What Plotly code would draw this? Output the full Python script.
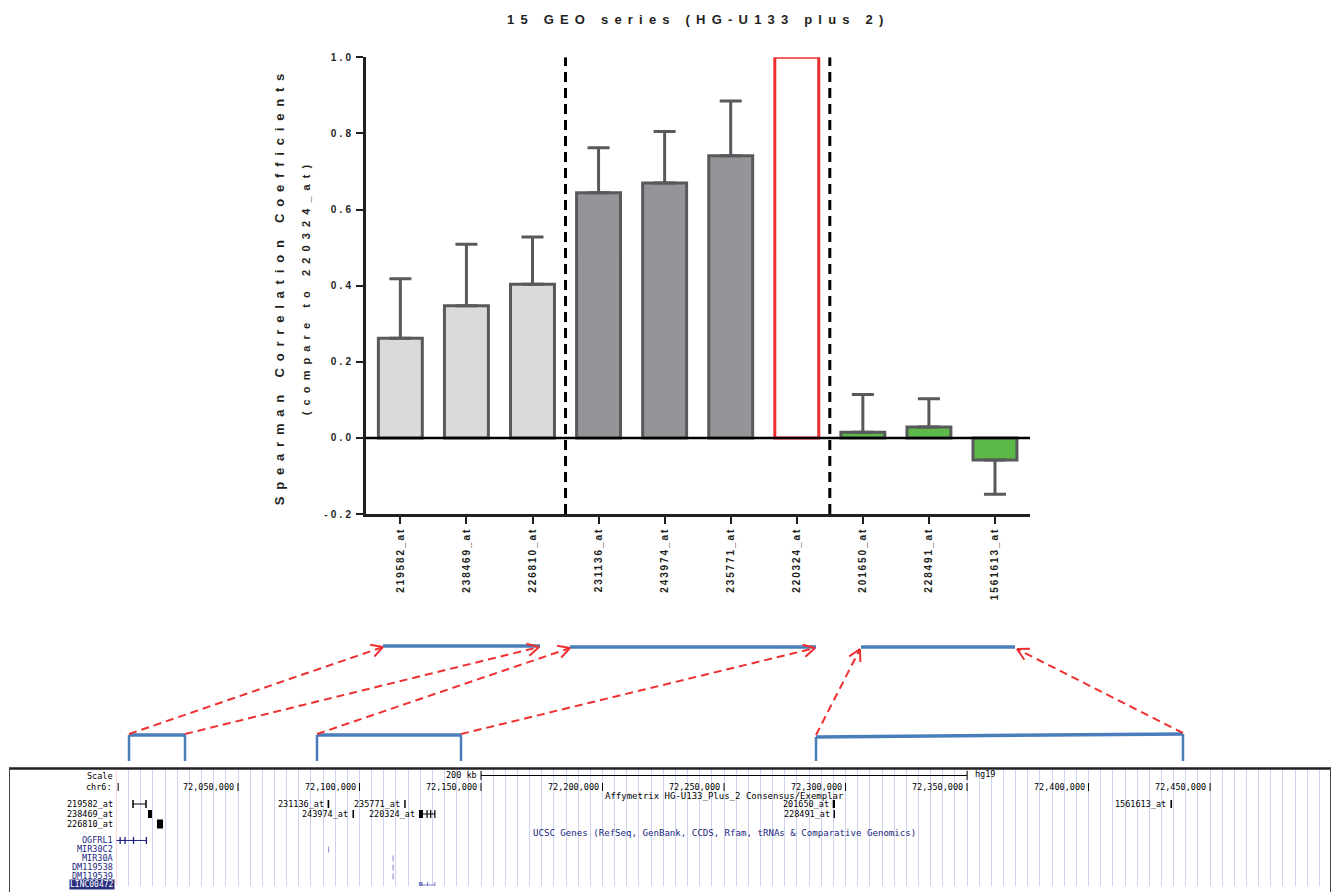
import math
import plotly.graph_objects as go

W, H = 1332, 892

# ---------------- bar chart data ----------------
probes = ["219582_at", "238469_at", "226810_at", "231136_at", "243974_at",
          "235771_at", "220324_at", "201650_at", "228491_at", "1561613_at"]
spearman_r = [0.262, 0.347, 0.404, 0.644, 0.670, 0.741, 1.0, 0.015, 0.029, -0.058]
sd_upper = [0.156, 0.162, 0.124, 0.118, 0.135, 0.144, 0.0, 0.099, 0.074, 0.0]
sd_lower = [0.0, 0.0, 0.0, 0.0, 0.0, 0.0, 0.0, 0.0, 0.0, 0.090]
probe_group = ["light", "light", "light", "dark", "dark", "dark", "ref", "green", "green", "green"]
group_breaks = [2.5, 6.5]
y_tick_values = [-0.2, 0.0, 0.2, 0.4, 0.6, 0.8, 1.0]
y_tick_labels = ["-0.2", "0.0", "0.2", "0.4", "0.6", "0.8", "1.0"]

# ---------------- genome browser data (hg19 chr6) ----------------
view_start = 72000000
view_end = 72499350
coord_ticks = [72050000, 72100000, 72150000, 72200000, 72250000,
               72300000, 72350000, 72400000, 72450000]
coord_tick_labels = ["72,050,000", "72,100,000", "72,150,000", "72,200,000", "72,250,000",
                     "72,300,000", "72,350,000", "72,400,000", "72,450,000"]
scale_bar = [72150000, 72350000]
gb_probe_names = ["219582_at", "238469_at", "226810_at", "231136_at", "243974_at",
                  "235771_at", "220324_at", "201650_at", "228491_at", "1561613_at"]
gb_probe_start = [72006800, 72012950, 72016650, 72086850, 72097100,
                  72118400, 72124450, 72294700, 72295050, 72433700]
gb_probe_end = [72012150, 72014600, 72019150, 72087550, 72097750,
                72119000, 72126100, 72295650, 72295650, 72434350]
gb_probe_row = [1, 2, 3, 1, 2, 1, 2, 1, 2, 1]
gb_probe_in_margin = [True, True, True, False, False, False, False, False, False, False]
gene_names = ["OGFRL1", "MIR30C2", "MIR30A", "DM119538", "DM119539", "LINC00472"]
gene_start = [71999000, 72087100, 72113650, 72113650, 72113650, 72124450]
gene_end = [72012500, 72087400, 72113950, 72113950, 72113950, 72131100]

# ---------------- styling ----------------
fill_of = {"light": "#d9dadc", "dark": "#939598", "ref": "#ffffff", "green": "#5db947"}
edge_of = {"light": "#58595b", "dark": "#58595b", "ref": "#ee2e2e", "green": "#58595b"}
ARIAL = "Arial, Liberation Sans, sans-serif"
MONO = "DejaVu Sans Mono, monospace"
NAVY = "#1a1f80"
BLUE = "#4a7ebb"
RED = "#ee3030"

# vertical placement: screen row -> figure row
V_OFF, V_SCALE = 4.73, 0.9869


def fy(d):
    return (d - V_OFF) / V_SCALE


def px(x):
    return x / W


def py(d):
    return 1 - fy(d) / H


def spaced(t, s):
    return f'<span style="letter-spacing:{s}px">{t}</span>'


fig = go.Figure()

idx_main = [i for i, g in enumerate(probe_group) if g != "ref"]
idx_ref = [i for i, g in enumerate(probe_group) if g == "ref"]

fig.add_trace(go.Bar(
    x=[probes[i] for i in idx_main],
    y=[spearman_r[i] for i in idx_main],
    width=0.665,
    marker=dict(color=[fill_of[probe_group[i]] for i in idx_main],
                line=dict(color=[edge_of[probe_group[i]] for i in idx_main], width=3)),
    error_y=dict(type="data", symmetric=False,
                 array=[sd_upper[i] for i in idx_main],
                 arrayminus=[sd_lower[i] for i in idx_main],
                 color="#58595b", thickness=3, width=11),
    showlegend=False, hoverinfo="skip",
))
fig.add_trace(go.Bar(
    x=[probes[i] for i in idx_ref],
    y=[spearman_r[i] for i in idx_ref],
    width=0.665,
    marker=dict(color=[fill_of[probe_group[i]] for i in idx_ref],
                line=dict(color=[edge_of[probe_group[i]] for i in idx_ref], width=3)),
    showlegend=False, hoverinfo="skip",
))

shapes = []
annotations = []

# zero line
shapes.append(dict(type="line", xref="x", yref="y", x0=-0.52, x1=9.53, y0=0, y1=0,
                   line=dict(color="black", width=2.5), layer="above"))
# dashed separators
for b in group_breaks:
    shapes.append(dict(type="line", xref="x", yref="y", x0=b, x1=b, y0=-0.2, y1=1.0,
                       line=dict(color="black", width=3, dash="10px,6px"), layer="above"))

# title
annotations.append(dict(text=spaced("15 GEO series (HG-U133 plus 2)", 6.2), xref="paper", yref="paper",
                        x=px(698), y=py(18), showarrow=False, xanchor="center", yanchor="middle",
                        font=dict(family=ARIAL, size=13, color="#231f20", weight="bold")))
# y axis title (two lines)
annotations.append(dict(text=spaced("Spearman Correlation Coefficients", 6.8), xref="paper", yref="paper",
                        x=px(279), y=py(285), textangle=-90, showarrow=False,
                        xanchor="center", yanchor="middle",
                        font=dict(family=ARIAL, size=13, color="#231f20", weight="bold")))
annotations.append(dict(text=spaced("(compare to 220324_at)", 6.1), xref="paper", yref="paper",
                        x=px(306), y=py(286), textangle=-90, showarrow=False,
                        xanchor="center", yanchor="middle",
                        font=dict(family=ARIAL, size=11, color="#231f20", weight="bold")))

# ---------------- connector brackets and arrows ----------------
upper_spans = [(383, 540, 645), (570, 816, 646), (861, 1015, 646)]
lower_spans = [(129, 185, 734, 734), (317, 461, 734, 734), (816, 1183, 736, 733)]
for (x0, x1, y) in upper_spans:
    shapes.append(dict(type="line", xref="paper", yref="paper", x0=px(x0), x1=px(x1), y0=py(y), y1=py(y),
                       line=dict(color=BLUE, width=3.5)))
for (x0, x1, ya, yb) in lower_spans:
    shapes.append(dict(type="line", xref="paper", yref="paper", x0=px(x0), x1=px(x1), y0=py(ya), y1=py(yb),
                       line=dict(color=BLUE, width=3.5)))
    shapes.append(dict(type="line", xref="paper", yref="paper", x0=px(x0), x1=px(x0), y0=py(ya), y1=py(760),
                       line=dict(color=BLUE, width=2.5)))
    shapes.append(dict(type="line", xref="paper", yref="paper", x0=px(x1), x1=px(x1), y0=py(yb), y1=py(760),
                       line=dict(color=BLUE, width=2.5)))

arrows = [((129, 733), (383, 646)), ((185, 733), (539, 646)),
          ((317, 733), (570, 647)), ((461, 733), (815, 647)),
          ((816, 734), (860, 648)), ((1183, 732), (1017, 648))]
for (a, b) in arrows:
    shapes.append(dict(type="line", xref="paper", yref="paper", x0=px(a[0]), x1=px(b[0]),
                       y0=py(a[1]), y1=py(b[1]), line=dict(color=RED, width=2, dash="8px,5px")))
    dx, dy = b[0] - a[0], b[1] - a[1]
    L = math.hypot(dx, dy)
    ux, uy = dx / L, dy / L
    for ang in (0.5, -0.5):
        c, s = math.cos(ang), math.sin(ang)
        rx, ry = ux * c - uy * s, ux * s + uy * c
        shapes.append(dict(type="line", xref="paper", yref="paper",
                           x0=px(b[0]), y0=py(b[1]), x1=px(b[0] - 13 * rx), y1=py(b[1] - 13 * ry),
                           line=dict(color=RED, width=2)))

# ---------------- genome browser ----------------
shapes.append(dict(type="line", xref="paper", yref="paper", x0=px(9), x1=px(1331), y0=py(767.5), y1=py(767.5),
                   line=dict(color="#222", width=2.5)))
shapes.append(dict(type="line", xref="paper", yref="paper", x0=px(9.5), x1=px(9.5), y0=py(767), y1=py(905),
                   line=dict(color="#444", width=1)))
shapes.append(dict(type="line", xref="paper", yref="paper", x0=px(1330.5), x1=px(1330.5), y0=py(767), y1=py(905),
                   line=dict(color="#444", width=1)))
shapes.append(dict(type="line", xref="x3", yref="y3", x0=view_start, x1=view_start, y0=769, y1=900,
                   line=dict(color="#ffb0b0", width=1)))

lab_font = dict(family=MONO, size=8.5, color="black")
row_y = {1: 803, 2: 813, 3: 823}

annotations.append(dict(text="Scale", xref="paper", yref="paper", x=px(115), y=py(775), showarrow=False,
                        xanchor="right", yanchor="middle", font=lab_font))
annotations.append(dict(text="chr6:", xref="paper", yref="paper", x=px(114), y=py(786), showarrow=False,
                        xanchor="right", yanchor="middle", font=lab_font))
shapes.append(dict(type="line", xref="x3", yref="y3", x0=view_start + 700, x1=view_start + 700, y0=782, y1=790,
                   line=dict(color="black", width=1)))
for t, lab in zip(coord_ticks, coord_tick_labels):
    shapes.append(dict(type="line", xref="x3", yref="y3", x0=t, x1=t, y0=782, y1=790,
                       line=dict(color="black", width=1)))
    annotations.append(dict(text=lab, xref="x3", yref="y3", x=t, y=786, xshift=-2, showarrow=False,
                            xanchor="right", yanchor="middle", font=lab_font))
shapes.append(dict(type="line", xref="x3", yref="y3", x0=scale_bar[0], x1=scale_bar[1], y0=774.5, y1=774.5,
                   line=dict(color="black", width=1)))
for t in scale_bar:
    shapes.append(dict(type="line", xref="x3", yref="y3", x0=t, x1=t, y0=770, y1=779,
                       line=dict(color="black", width=1)))
annotations.append(dict(text="200 kb", xref="x3", yref="y3", x=scale_bar[0], y=774, xshift=-2, showarrow=False,
                        xanchor="right", yanchor="middle", font=lab_font))
annotations.append(dict(text="hg19", xref="x3", yref="y3", x=scale_bar[1], y=773, xshift=6, showarrow=False,
                        xanchor="left", yanchor="middle", font=lab_font))
annotations.append(dict(text="Affymetrix HG-U133_Plus_2 Consensus/Exemplar", xref="x3", yref="y3",
                        x=72250000, y=795, showarrow=False, xanchor="center", yanchor="middle",
                        font=dict(family=MONO, size=9, color="black")))
annotations.append(dict(text="UCSC Genes (RefSeq, GenBank, CCDS, Rfam, tRNAs &amp; Comparative Genomics)",
                        xref="x3", yref="y3", x=72250000, y=832, showarrow=False,
                        xanchor="center", yanchor="middle", font=dict(family=MONO, size=9.1, color=NAVY)))

for name, s, e, r, m in zip(gb_probe_names, gb_probe_start, gb_probe_end, gb_probe_row, gb_probe_in_margin):
    yc = row_y[r]
    if name == "219582_at":
        shapes.append(dict(type="line", xref="x3", yref="y3", x0=s, x1=e, y0=yc, y1=yc,
                           line=dict(color="black", width=1)))
        for t in (s, e):
            shapes.append(dict(type="line", xref="x3", yref="y3", x0=t, x1=t, y0=yc - 4, y1=yc + 4,
                               line=dict(color="black", width=1.5)))
    else:
        h = 4.5 if r == 3 else 4
        shapes.append(dict(type="rect", xref="x3", yref="y3", x0=s, x1=e, y0=yc - h, y1=yc + h,
                           fillcolor="black", line=dict(width=0)))
    if name == "220324_at":
        shapes.append(dict(type="line", xref="x3", yref="y3", x0=e, x1=72131100, y0=yc, y1=yc,
                           line=dict(color="black", width=1)))
        for t in (72127800, 72129300, 72131000):
            shapes.append(dict(type="line", xref="x3", yref="y3", x0=t, x1=t, y0=yc - 4, y1=yc + 4,
                               line=dict(color="black", width=1.2)))
    if m:
        annotations.append(dict(text=name, xref="paper", yref="paper", x=px(115), y=py(yc), showarrow=False,
                                xanchor="right", yanchor="middle", font=lab_font))
    else:
        annotations.append(dict(text=name, xref="x3", yref="y3", x=s, y=yc, xshift=-2, showarrow=False,
                                xanchor="right", yanchor="middle", font=lab_font))

gene_y = [839.5, 848.5, 857.5, 866.5, 875.5, 884]
for name, s, e, yc in zip(gene_names, gene_start, gene_end, gene_y):
    if name == "OGFRL1":
        shapes.append(dict(type="line", xref="x3", yref="y3", x0=s, x1=e, y0=yc, y1=yc,
                           line=dict(color=NAVY, width=1)))
        for t in (72001500, 72003500, 72007000, 72012300):
            shapes.append(dict(type="line", xref="x3", yref="y3", x0=t, x1=t, y0=yc - 3.5, y1=yc + 3.5,
                               line=dict(color=NAVY, width=1.3)))
        annotations.append(dict(text=name, xref="paper", yref="paper", x=px(115), y=py(yc), showarrow=False,
                                xanchor="right", yanchor="middle", font=dict(family=MONO, size=8.5, color=NAVY)))
    elif name == "LINC00472":
        shapes.append(dict(type="line", xref="x3", yref="y3", x0=s, x1=e, y0=yc, y1=yc,
                           line=dict(color="#7a7fc8", width=1)))
        shapes.append(dict(type="rect", xref="x3", yref="y3", x0=s, x1=s + 1500, y0=yc - 3, y1=yc + 3,
                           fillcolor="#7a7fc8", line=dict(width=0)))
        for t in (72128000, 72131000):
            shapes.append(dict(type="line", xref="x3", yref="y3", x0=t, x1=t, y0=yc - 3, y1=yc + 3,
                               line=dict(color="#7a7fc8", width=1)))
        annotations.append(dict(text=name, xref="paper", yref="paper", x=px(115), y=py(yc), showarrow=False,
                                xanchor="right", yanchor="middle", bgcolor="#2a2f80", borderpad=0,
                                font=dict(family=MONO, size=8, color="white")))
    else:
        shapes.append(dict(type="line", xref="x3", yref="y3", x0=(s + e) / 2, x1=(s + e) / 2,
                           y0=yc - 3, y1=yc + 3, line=dict(color="#9a9ad0", width=1.2)))
        annotations.append(dict(text=name, xref="paper", yref="paper", x=px(115), y=py(yc), showarrow=False,
                                xanchor="right", yanchor="middle", font=dict(family=MONO, size=8.5, color=NAVY)))

fig.update_layout(
    width=W, height=H,
    margin=dict(l=0, r=0, t=0, b=0),
    paper_bgcolor="white", plot_bgcolor="rgba(0,0,0,0)",
    barmode="overlay",
    shapes=shapes, annotations=annotations,
    xaxis=dict(domain=[px(366), px(1030)], range=[-0.52, 9.53], anchor="y",
               categoryorder="array", categoryarray=probes,
               tickmode="array", tickvals=probes, ticktext=[spaced(p, 1.9) for p in probes],
               tickangle=-90, tickfont=dict(family=ARIAL, size=10, color="#231f20", weight="bold"),
               showline=True, linecolor="#231f20", linewidth=2.5,
               ticks="outside", ticklen=7, tickwidth=2, tickcolor="#231f20",
               showgrid=False, zeroline=False, fixedrange=True),
    yaxis=dict(domain=[py(513), py(56)], range=[-0.2, 1.0], anchor="x",
               tickmode="array", tickvals=y_tick_values, ticktext=[spaced(t, 3.2) for t in y_tick_labels],
               tickfont=dict(family=ARIAL, size=10, color="#231f20", weight="bold"),
               showline=True, linecolor="#231f20", linewidth=2.5,
               ticks="outside", ticklen=7, tickwidth=2, tickcolor="#231f20",
               showgrid=False, zeroline=False, fixedrange=True),
    xaxis3=dict(domain=[px(116.5), px(1330)], range=[view_start, view_end], anchor="y3",
                showgrid=True, gridcolor="#cfd2f0", gridwidth=1, tick0=view_start, dtick=5000,
                showticklabels=False, ticks="", zeroline=False, showline=False, fixedrange=True),
    yaxis3=dict(domain=[0, py(768)], range=[V_OFF + V_SCALE * H, 768], anchor="x3",
                showgrid=False, showticklabels=False, ticks="", zeroline=False, showline=False,
                fixedrange=True),
)

fig.write_html("out.html", config={"displayModeBar": False},
               post_script="document.body.style.margin='0px';")
